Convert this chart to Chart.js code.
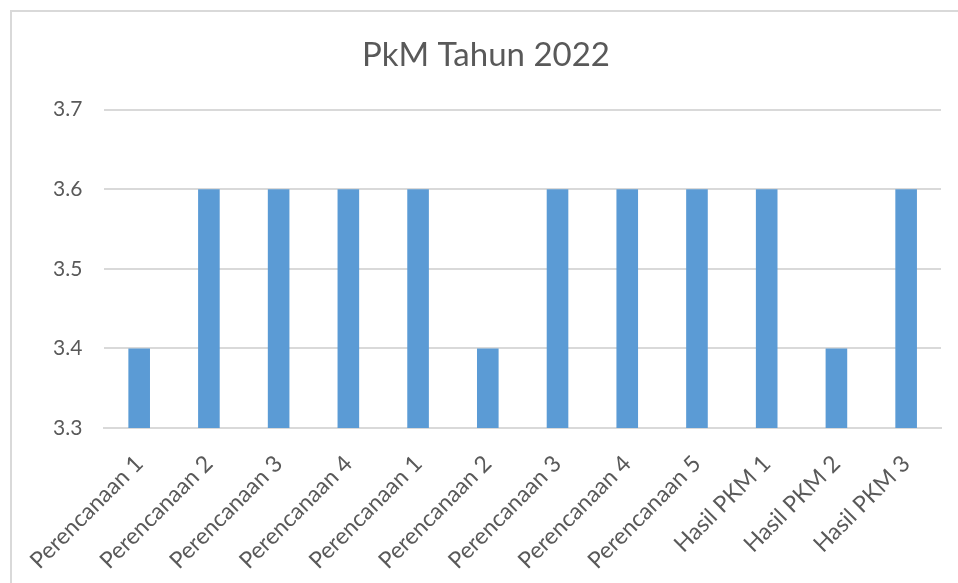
<!DOCTYPE html>
<html>
<head>
<meta charset="utf-8">
<script src="https://cdn.jsdelivr.net/npm/chart.js@4"></script>
<style>
  html, body { margin: 0; padding: 0; background: #fff; overflow: hidden; }
  #frame { position: absolute; left: 10px; top: 10px; width: 960px; height: 590px;
           border: 2px solid #d9d9d9; box-sizing: border-box; }
  #wrap { position: absolute; left: 0; top: 0; width: 958px; height: 583px; }
</style>
</head>
<body>
<div id="frame"></div>
<div id="wrap"><canvas id="pkmChart"></canvas></div>
<script>
const categories = ['Perencanaan 1', 'Perencanaan 2', 'Perencanaan 3', 'Perencanaan 4',
  'Perencanaan 1', 'Perencanaan 2', 'Perencanaan 3', 'Perencanaan 4', 'Perencanaan 5',
  'Hasil PKM 1', 'Hasil PKM 2', 'Hasil PKM 3'];
const values = [3.4, 3.6, 3.6, 3.6, 3.6, 3.4, 3.6, 3.6, 3.6, 3.6, 3.4, 3.6];
const yTicks = [3.3, 3.4, 3.5, 3.6, 3.7];

document.addEventListener("DOMContentLoaded", function() {
  const ctx = document.getElementById('pkmChart');
  const textColor = '#595959';
  const gridColor = '#d9d9d9';

  new Chart(ctx.getContext('2d'), {
    type: 'bar',
    data: {
      labels: categories,
      datasets: [{
        label: 'PkM',
        data: values,
        backgroundColor: '#5b9bd5',
        borderWidth: 0,
        categoryPercentage: 1,
        barPercentage: 0.31
      }]
    },
    options: {
      responsive: true,
      maintainAspectRatio: false,
      animation: false,
      layout: { padding: { left: 31, right: 17, top: 36, bottom: 0 } },
      plugins: {
        legend: { display: false },
        tooltip: { enabled: false },
        title: {
          display: true,
          text: 'PkM Tahun 2022',
          color: textColor,
          font: { family: 'Lato, sans-serif', size: 33, weight: 'normal' },
          padding: { top: 0, bottom: 34 }
        }
      },
      scales: {
        y: {
          min: yTicks[0],
          max: yTicks[yTicks.length - 1],
          afterBuildTicks: function(axis) {
            axis.ticks = yTicks.map(v => ({ value: v }));
          },
          border: { display: false },
          grid: { color: gridColor, lineWidth: 2, drawTicks: false },
          ticks: {
            color: textColor,
            padding: 22,
            font: { family: 'Lato, sans-serif', size: 21 },
            callback: v => Number(v).toFixed(1)
          }
        },
        x: {
          afterFit: function(axis) { axis.height = 155; },
          border: { color: gridColor, width: 2 },
          grid: { display: false },
          ticks: {
            color: textColor,
            minRotation: 45,
            maxRotation: 45,
            padding: 14,
            font: { family: 'Lato, sans-serif', size: 23 }
          }
        }
      }
    }
  });
});
</script>
</body>
</html>
